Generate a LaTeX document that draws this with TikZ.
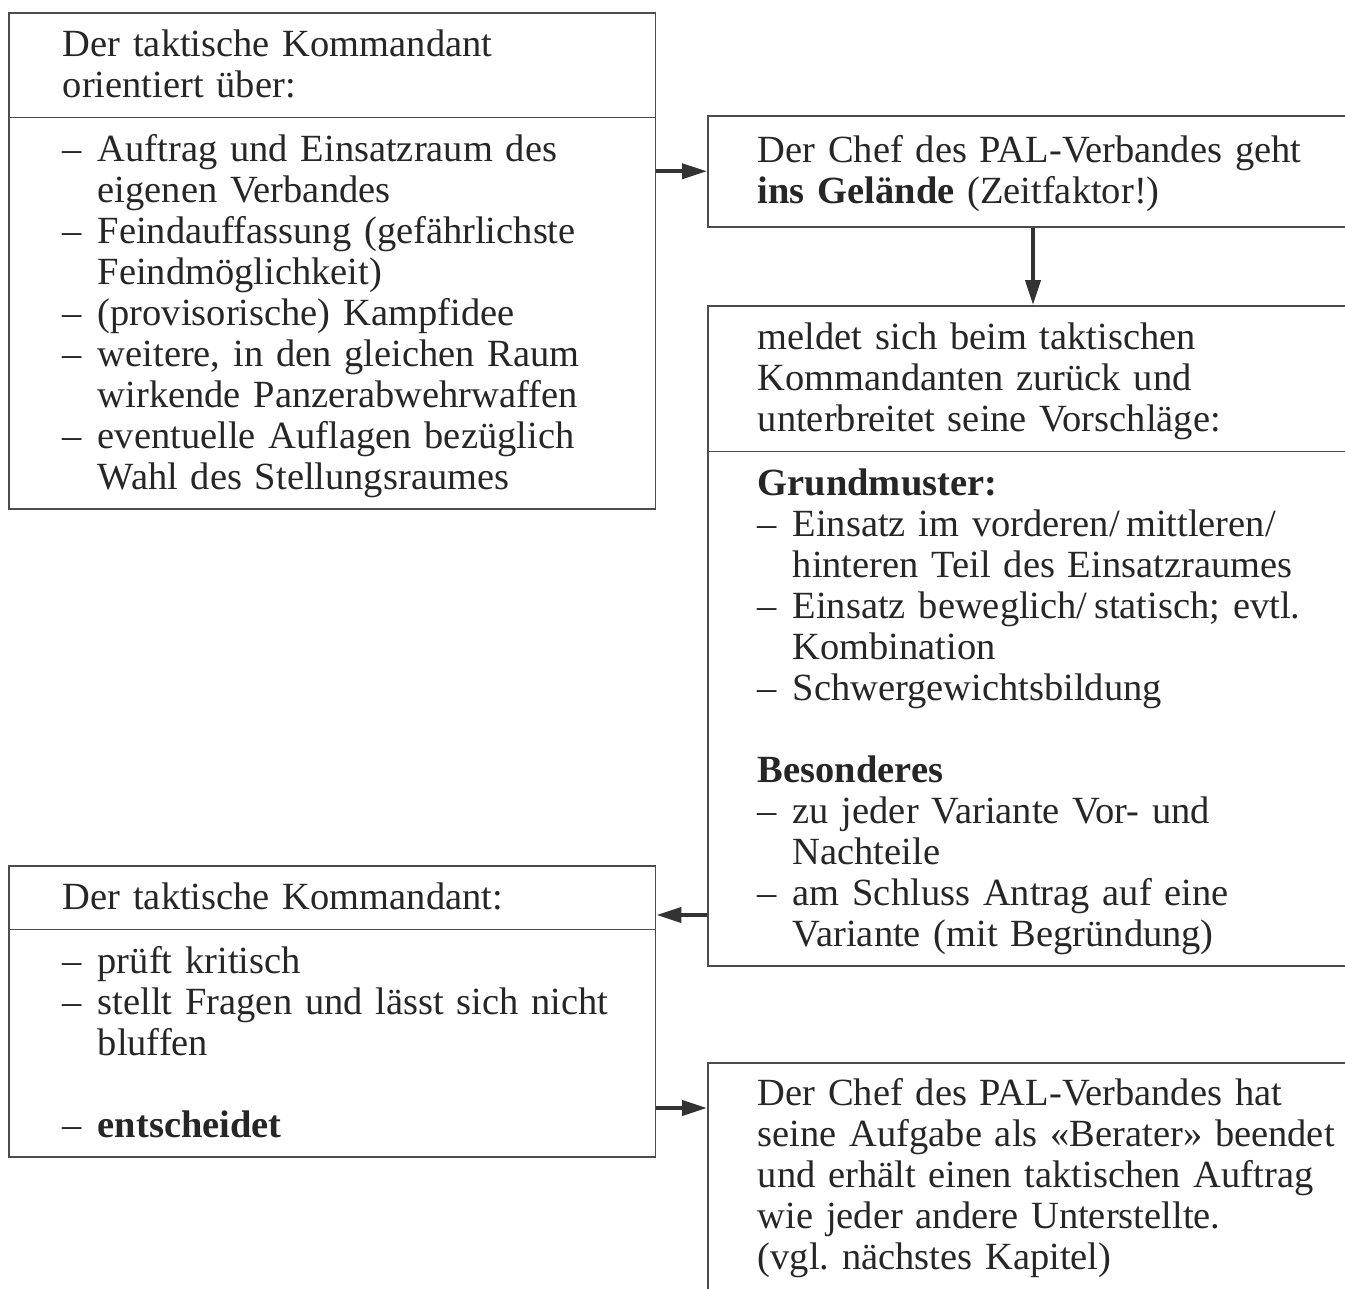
\documentclass[tikz,border=0pt]{standalone}
\usepackage{fontspec}
\setmainfont{Liberation Serif}[WordSpace=0.85]
\usetikzlibrary{arrows.meta,calc,shapes.multipart}

\newcommand{\itm}{\makebox[0.7cm][l]{--}}
\newcommand{\cont}{\hspace*{0.7cm}}
\newcommand{\fstrut}{\rule[-4.84pt]{0pt}{23.33pt}}

\tikzset{
  box/.style={draw=black!70, line width=0.9pt, text=black!85, align=left,
    inner ysep=6pt, font=\fontsize{21.9}{23.33}\selectfont\frenchspacing},
  splitbox/.style={box, rectangle split, rectangle split parts=2},
  leftbox/.style={inner xsep=1.08cm, text width=10.78cm},
  rightbox/.style={inner xsep=1.0cm, text width=12cm},
  arr/.style={-{Triangle[length=0.5cm,width=0.3cm]}, line width=2.2pt, draw=black!80}
}

\begin{document}
\begin{tikzpicture}[x=0.02cm, y=-0.02cm]
\useasboundingbox (0,0) rectangle (1345,1288);
\clip (0,0) rectangle (1345,1288);

\node[splitbox, leftbox, anchor=north west] (kdt) at (8,12)
  {\fstrut Der taktische Kommandant\\ orientiert über:\fstrut
   \nodepart{two}\fstrut\itm Auftrag und Einsatzraum des\\
   \cont eigenen Verbandes\\
   \itm Feindauffassung (gefährlichste\\
   \cont Feindmöglichkeit)\\
   \itm (provisorische) Kampfidee\\
   \itm weitere, in den gleichen Raum\\
   \cont wirkende Panzerabwehrwaffen\\
   \itm eventuelle Auflagen bezüglich\\
   \cont Wahl des Stellungsraumes\fstrut};

\node[box, rightbox, inner ysep=8.25pt, anchor=north west] (chef) at (707,115)
  {\fstrut Der Chef des PAL-Verbandes geht\\
   \textbf{ins Gelände} (Zeitfaktor!)\fstrut};

\node[splitbox, rightbox, anchor=north west] (vorschlag) at (707,305)
  {\fstrut meldet sich beim taktischen\\
   Kommandanten zurück und\\
   unterbreitet seine Vorschläge:\fstrut
   \nodepart{two}\fstrut\textbf{Grundmuster:}\\
   \itm Einsatz im vorderen/\,mittleren/\\
   \cont hinteren Teil des Einsatzraumes\\
   \itm Einsatz beweglich/\,statisch; evtl.\\
   \cont Kombination\\
   \itm Schwergewichtsbildung\\
   ~\\
   \textbf{Besonderes}\\
   \itm zu jeder Variante Vor- und\\
   \cont Nachteile\\
   \itm am Schluss Antrag auf eine\\
   \cont Variante (mit Begründung)\fstrut};

\node[splitbox, leftbox, anchor=north west] (entscheid) at (8,865)
  {\fstrut Der taktische Kommandant:\fstrut
   \nodepart{two}\fstrut\itm prüft kritisch\\
   \itm \mbox{stellt Fragen und lässt sich nicht}\\
   \cont bluffen\\
   ~\\
   \itm \textbf{entscheidet}\fstrut};

% unten abgeschnitten wie im Original
\node[box, rightbox, anchor=north west] (berater) at (707,1062)
  {\fstrut Der Chef des PAL-Verbandes hat\\
   seine Aufgabe als «Berater» beendet\\
   und erhält einen taktischen Auftrag\\
   wie jeder andere Unterstellte.\\
   (vgl. nächstes Kapitel)\rule[-14pt]{0pt}{1pt}};

% Verbindungen
\coordinate (knick) at ($(chef.south west)+(326,0)$);
\coordinate (rueck) at ($(entscheid.north east)+(0,50)$);
\coordinate (auftrag) at ($(berater.north west)+(0,46)$);

\draw[arr] (kdt.east |- chef.west) -- (chef.west);
\draw[arr] (knick) -- (knick |- vorschlag.north);
\draw[arr] (vorschlag.west |- rueck) -- (rueck);
\draw[arr] (entscheid.east |- auftrag) -- (auftrag);
\end{tikzpicture}
\end{document}
